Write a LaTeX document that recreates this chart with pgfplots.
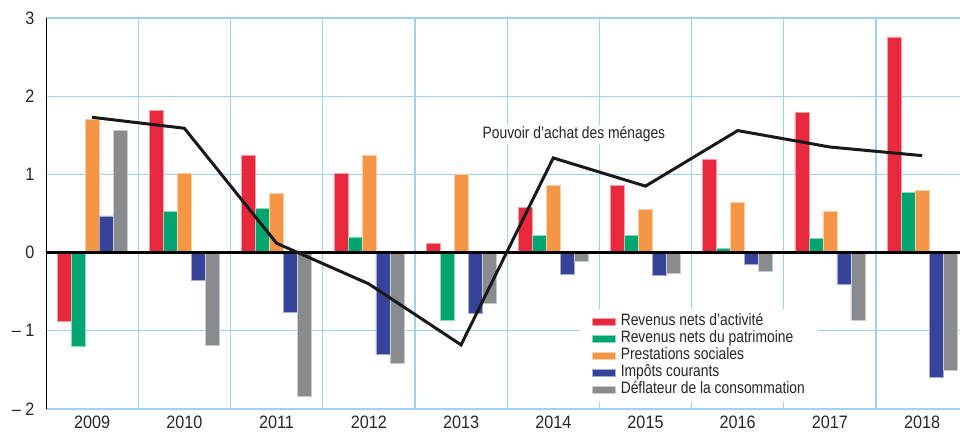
\documentclass[border=0pt]{standalone}
\usepackage{pgfplots}
\pgfplotsset{compat=1.18}
\usepackage{fontspec}
\setmainfont{Liberation Sans}[FakeStretch=0.84]
\newfontfamily\tickfont{Liberation Sans}[FakeStretch=0.9]
\definecolor{cRed}{RGB}{232,40,60}
\definecolor{cGreen}{RGB}{0,166,114}
\definecolor{cOrange}{RGB}{245,150,70}
\definecolor{cBlue}{RGB}{53,67,155}
\definecolor{cGray}{RGB}{137,140,142}
\definecolor{cGrid}{RGB}{160,210,240}
\pgfplotstableread{
x red green orange blue gray line
0 -0.88 -1.20 1.70 0.47 1.56 1.73
1 1.82 0.53 1.01 -0.36 -1.18 1.59
2 1.24 0.57 0.76 -0.76 -1.84 0.12
3 1.01 0.20 1.25 -1.30 -1.42 -0.40
4 0.12 -0.87 1.00 -0.78 -0.65 -1.18
5 0.58 0.22 0.86 -0.28 -0.11 1.21
6 0.86 0.22 0.55 -0.29 -0.27 0.85
7 1.19 0.05 0.64 -0.15 -0.24 1.56
8 1.79 0.18 0.53 -0.41 -0.86 1.35
9 2.76 0.77 0.80 -1.59 -1.50 1.24
}\data
\begin{document}
\begin{tikzpicture}
\useasboundingbox (0,0) rectangle (960pt,433pt);
\begin{axis}[
  at={(46pt,24pt)}, anchor=south west,
  scale only axis, width=914pt, height=391pt,
  xmin=-0.5, xmax=9.41, ymin=-2, ymax=3,
  axis line style={draw=none},
  major tick length=0pt, minor tick length=0pt,
  xtick={0,...,9},
  xticklabels={2009,2010,2011,2012,2013,2014,2015,2016,2017,2018},
  minor xtick={0.5,1.5,...,8.5},
  ytick={-2,-1,0,1,2,3},
  yticklabels={– 2,– 1,0,1,2,3},
  ymajorgrids, xminorgrids,
  major grid style={cGrid, line width=1.2pt},
  minor grid style={cGrid, line width=1.2pt},
  ticklabel style={font=\tickfont\fontsize{18}{18}\selectfont, text=black!85},
  xticklabel style={yshift=-3pt},
  yticklabel style={xshift=-8pt},
  legend cell align=left,
  legend style={at={(0.5843,0.2558)}, anchor=north west, fill=white, draw=none,
    inner xsep=12pt, inner ysep=4pt,
    font=\fontsize{16.5}{16.5}\selectfont, text=black!85,
    row sep=0pt, column sep=4pt,
    nodes={inner sep=1pt, text height=11.5pt, text depth=3.5pt}},
  legend image code/.code={\fill[#1] (0pt,-3.5pt) rectangle (23pt,3.5pt);},
]
\addplot[ybar, bar width=14pt, bar shift=-28pt, fill=cRed, draw=cRed!45!white, line width=0.5pt] table[x=x,y=red]{\data};
\addlegendentry{Revenus nets d'activité}
\addplot[ybar, bar width=14pt, bar shift=-14pt, fill=cGreen, draw=cGreen!45!white, line width=0.5pt] table[x=x,y=green]{\data};
\addlegendentry{Revenus nets du patrimoine}
\addplot[ybar, bar width=14pt, bar shift=0pt, fill=cOrange, draw=cOrange!45!white, line width=0.5pt] table[x=x,y=orange]{\data};
\addlegendentry{Prestations sociales}
\addplot[ybar, bar width=14pt, bar shift=14pt, fill=cBlue, draw=cBlue!45!white, line width=0.5pt] table[x=x,y=blue]{\data};
\addlegendentry{Impôts courants}
\addplot[ybar, bar width=14pt, bar shift=28pt, fill=cGray, draw=cGray!45!white, line width=0.5pt] table[x=x,y=gray]{\data};
\addlegendentry{Déflateur de la consommation}
\draw[black, line width=2.5pt] (axis cs:-0.5,0) -- (axis cs:9.41,0);
\addplot[black!90, line width=3pt, mark=none, forget plot] table[x=x,y=line]{\data};
\draw[black, line width=2.5pt] (axis cs:-0.5,-2) -- (axis cs:-0.5,3);
\node[anchor=west, fill=white, inner sep=2pt, text=black!85, font=\fontsize{16.5}{16.5}\selectfont] at (axis cs:4.21,1.51) {Pouvoir d'achat des ménages};
\end{axis}
\end{tikzpicture}
\end{document}
